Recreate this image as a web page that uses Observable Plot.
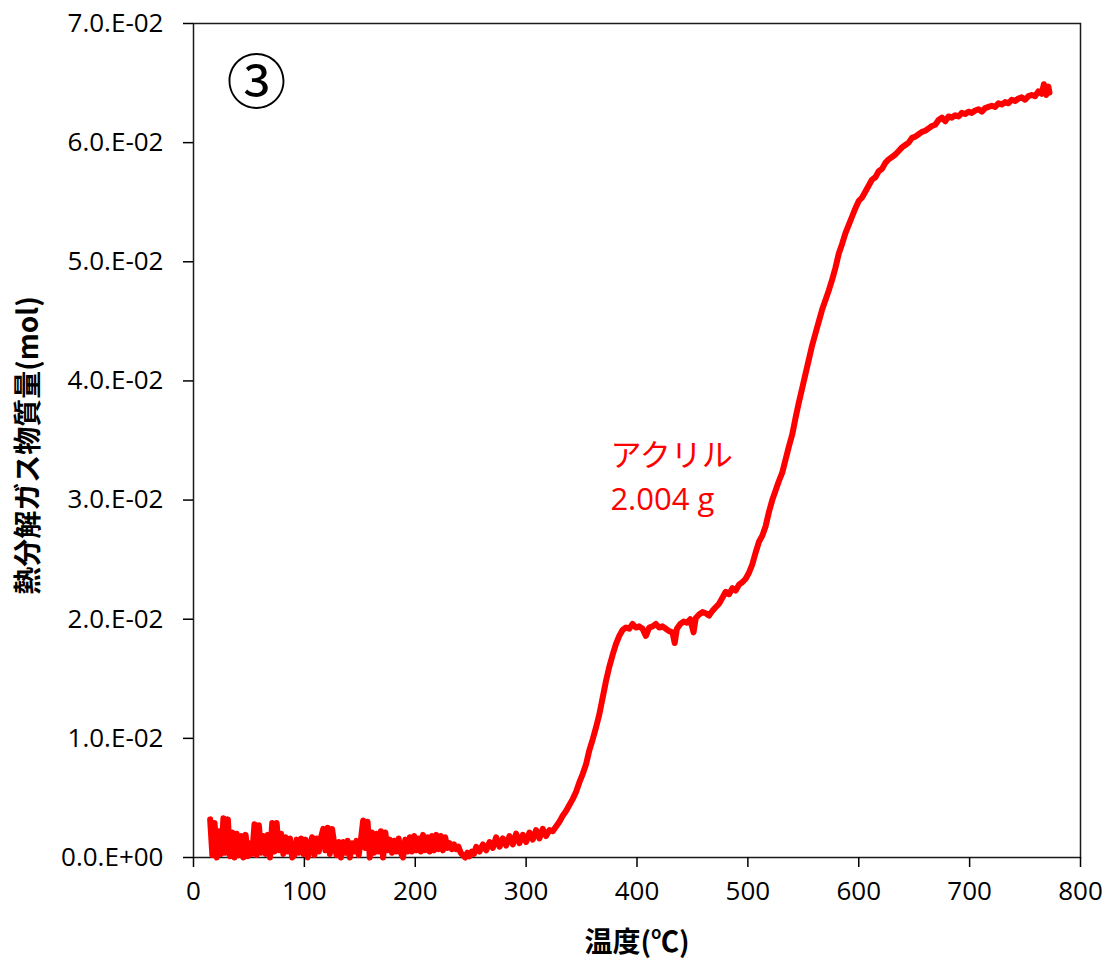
<!DOCTYPE html>
<html>
<head>
<meta charset="utf-8">
<script src="https://cdn.jsdelivr.net/npm/d3@7"></script>
<script src="https://cdn.jsdelivr.net/npm/@observablehq/plot@0.6"></script>
<style>
  html, body { margin: 0; padding: 0; background: #fff; }
</style>
</head>
<body>
<div id="chart"></div>
<script>
// Temperature (°C)
const temperatureC = [
  15,17,19,21,23,25,27,29,31,33,
  35,37,39,41,43,45,47,49,51,53,
  55,57,59,61,63,65,67,69,71,73,
  75,77,79,81,83,85,87,89,91,93,
  95,97,99,101,103,105,107,109,111,113,
  115,117,119,121,123,125,127,129,131,133,
  135,137,139,141,143,145,147,149,151,153,
  155,157,159,161,163,165,167,169,171,173,
  175,177,179,181,183,185,187,189,191,193,
  195,197,199,201,203,205,207,209,211,213,
  215,217,219,221,223,225,227,229,231,233,
  235,237,239,241,243,245,247,249,251,253,
  255,258,261,264,267,270,273,276,279,282,
  285,288,291,294,297,300,303,306,309,312,
  315,318,321,324,327,330,333,336,339,342,
  345,348,351,354,357,360,363,366,369,372,
  375,378,381,384,387,390,393,396,399,402,
  405,408,411,414,417,420,423,426,429,432,
  434,436,439,442,445,448,451,453,456,459,
  462,465,468,471,474,477,480,483,486,489,
  492,495,498,501,504,507,510,513,516,519,
  522,525,528,531,534,537,540,543,546,549,
  552,555,558,561,564,567,570,573,576,579,
  582,585,588,591,594,597,600,603,606,609,
  612,615,618,621,624,627,630,633,636,639,
  642,645,648,651,654,657,660,663,666,669,
  672,675,678,681,684,687,690,693,696,699,
  702,705,708,711,714,717,720,723,726,729,
  732,735,738,741,744,747,750,753,756,759,
  762,765,767,769,771,772
];

// Decomposition gas amount, in units of 1e-3 mol
const gasMmol = [
  3.2,0.2,2.9,0.0,2.2,0.3,3.3,0.4,3.2,0.1,
  2.1,0.0,2.0,0.2,1.8,0.0,1.9,0.1,1.2,0.3,
  2.8,0.2,2.7,0.4,1.8,0.3,1.9,0.0,2.9,0.5,
  2.9,0.6,2.0,0.3,1.7,0.5,1.6,0.0,0.2,1.5,
  0.4,1.6,0.3,1.5,0.0,0.9,1.7,0.2,1.6,0.5,
  1.7,2.4,0.6,2.5,0.3,2.4,1.1,0.2,1.3,0.0,
  1.3,0.4,1.4,0.0,1.2,0.5,1.4,0.2,1.5,3.1,
  0.8,3.0,0.0,2.1,0.4,2.0,0.5,2.2,0.0,2.1,
  0.6,1.5,0.4,1.4,0.5,1.6,0.4,0.0,1.5,0.5,
  1.7,0.5,1.8,0.6,1.6,0.5,1.9,0.6,1.7,0.5,
  1.8,0.6,1.9,0.7,1.8,0.6,1.7,0.8,1.2,0.7,
  1.1,0.7,0.9,0.4,0.2,0.0,0.4,0.1,0.5,0.3,
  0.9,0.5,1.1,0.6,1.3,0.8,1.7,0.9,1.6,1.0,
  1.8,1.1,2.0,1.2,1.9,1.3,2.1,1.5,2.3,1.6,
  2.4,1.8,2.3,2.2,2.6,3.0,3.5,3.9,4.4,4.9,
  5.5,6.3,7.0,7.8,9.0,9.9,10.9,12.0,13.4,14.8,
  16.0,17.0,17.9,18.6,19.1,19.3,19.2,19.6,19.3,19.4,
  19.2,18.6,19.3,19.4,19.6,19.3,19.4,19.2,19.0,18.9,
  18.0,19.2,19.6,19.8,19.7,20.0,18.9,20.1,20.4,20.6,
  20.5,20.3,20.7,21.0,21.3,21.8,22.3,22.1,22.6,22.4,
  22.9,23.1,23.4,23.9,24.6,25.6,26.5,27.0,27.8,29.0,
  30.0,30.8,31.6,32.3,33.4,34.5,35.5,36.9,38.2,39.4,
  40.6,41.8,43.0,44.0,45.0,46.0,46.8,47.6,48.5,49.5,
  50.7,51.5,52.4,53.1,53.8,54.5,55.1,55.4,55.9,56.4,
  56.9,57.1,57.6,57.8,58.3,58.6,58.8,59.0,59.3,59.6,
  59.8,60.0,60.4,60.5,60.7,60.9,61.0,61.2,61.4,61.5,
  61.9,62.1,61.8,62.2,62.1,62.3,62.2,62.5,62.4,62.6,
  62.5,62.7,62.8,62.6,62.9,63.0,63.1,63.0,63.3,63.2,
  63.4,63.3,63.6,63.5,63.7,63.8,63.6,63.9,64.0,63.9,
  64.3,64.1,64.9,64.0,64.7,64.2
];

const xTicks = [0, 100, 200, 300, 400, 500, 600, 700, 800];
const yTicks = [0, 0.01, 0.02, 0.03, 0.04, 0.05, 0.06, 0.07];
const yTickLabels = ["0.0.E+00","1.0.E-02","2.0.E-02","3.0.E-02","4.0.E-02","5.0.E-02","6.0.E-02","7.0.E-02"];

const xLabel = "温度(℃)";
const yLabel = "熱分解ガス物質量(mol)";
const panelMark = "③";
const seriesName = "アクリル";
const sampleMass = "2.004 g";

const data = temperatureC.map((t, i) => ({ t, mol: gasMmol[i] * 1e-3 }));

const chart = Plot.plot({
  width: 1113,
  height: 966,
  marginLeft: 193,
  marginRight: 33,
  marginTop: 23,
  marginBottom: 109,
  style: {
    fontFamily: "'Open Sans', 'Noto Sans CJK JP', sans-serif",
    fontSize: "26px",
    color: "#000",
    background: "#fff"
  },
  x: { domain: [0, 800] },
  y: { domain: [0, 0.07] },
  marks: [
    Plot.frame({ stroke: "#1a1a1a", strokeWidth: 1.5 }),
    Plot.axisX({ ticks: xTicks, tickSize: 10, tickPadding: 14, fontSize: 26, strokeWidth: 1.5, label: null }),
    Plot.axisY({ ticks: yTicks, tickSize: 10, tickPadding: 20, fontSize: 26, strokeWidth: 1.5, label: null,
      tickFormat: d => yTickLabels[Math.round(d * 100)] }),
    Plot.line(data, { x: "t", y: "mol", stroke: "#ff0000", strokeWidth: 6, strokeLinejoin: "round", strokeLinecap: "round" }),
    Plot.text([seriesName], { x: 376, y: 0.0337, text: d => d, textAnchor: "start", fill: "#ff0000", fontSize: 31 }),
    Plot.text([sampleMass], { x: 376, y: 0.0300, text: d => d, textAnchor: "start", fill: "#ff0000", fontSize: 31 }),
    Plot.text([panelMark], { frameAnchor: "top-left", dx: 63, dy: 61, textAnchor: "middle", lineAnchor: "middle", text: d => d, fontSize: 60, fontFamily: "'Noto Sans CJK JP'" }),
    Plot.text([xLabel], { frameAnchor: "bottom", dy: 86, textAnchor: "middle", lineAnchor: "middle", text: d => d, fontSize: 28, fontWeight: "bold", fontFamily: "'Noto Sans CJK JP'" }),
    Plot.text([yLabel], { frameAnchor: "left", rotate: -90, dx: -164, dy: 5, textAnchor: "middle", lineAnchor: "middle", text: d => d, fontSize: 28, fontWeight: "bold", fontFamily: "'Noto Sans CJK JP'" })
  ]
});
document.getElementById("chart").appendChild(chart);
</script>
</body>
</html>
